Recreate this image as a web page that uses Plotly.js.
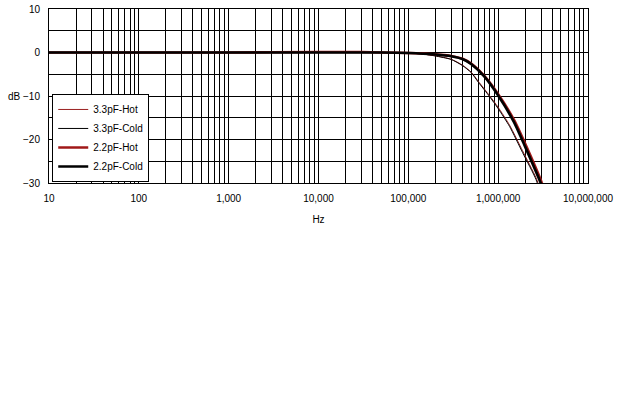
<!DOCTYPE html>
<html><head><meta charset="utf-8">
<script src="https://cdn.plot.ly/plotly-3.0.1.min.js"></script>
<style>html,body{margin:0;padding:0;background:#fff}#chart{width:619px;height:414px}</style>
</head><body><div id="chart"></div>
<script>
const freqHot33  = [10, 1000, 10000, 30000, 60000, 100000, 150000, 200000, 300000, 400000, 500000, 600000, 800000, 1000000, 1340000, 1870000, 2640000, 3000000];
const dbHot33    = [0, 0, 0.05, 0.05, 0, -0.1, -0.4, -0.75, -1.55, -2.9, -4.5, -6.6, -9.9, -12.6, -16.7, -22.6, -28.8, -32];
const freqCold33 = [10, 1000, 10000, 30000, 60000, 100000, 150000, 200000, 300000, 400000, 500000, 600000, 800000, 1000000, 1340000, 1870000, 2640000, 3000000];
const dbCold33   = [0, 0, 0, 0, 0, -0.1, -0.4, -0.8, -1.6, -3.0, -4.6, -6.8, -10.1, -12.9, -17, -23, -29.2, -33];
const freqHot22  = [10, 1000, 10000, 30000, 50000, 100000, 200000, 300000, 400000, 500000, 700000, 1000000, 1500000, 2000000, 3000000, 3300000];
const dbHot22    = [0, 0, 0.1, 0.1, 0, -0.1, -0.4, -0.8, -1.45, -2.55, -5.4, -9.6, -15.5, -21, -29.5, -32];
const freqCold22 = [10, 1000, 10000, 30000, 50000, 100000, 200000, 300000, 400000, 500000, 700000, 1000000, 1500000, 2000000, 3000000, 3300000];
const dbCold22   = [0, 0, 0, 0, 0, -0.1, -0.45, -0.85, -1.5, -2.65, -5.5, -9.9, -16, -21.7, -30.2, -33];
const names = ['3.3pF-Hot', '3.3pF-Cold', '2.2pF-Hot', '2.2pF-Cold'];
const xTicks = [10, 100, 1000, 10000, 100000, 1000000, 10000000];
const xTickText = ['10', '100', '1,000', '10,000', '100,000', '1,000,000', '10,000,000'];
const yTicks = [10, 0, -10, -20, -30];

const FONT = 'Liberation Sans, DejaVu Sans, sans-serif';
const traces = [
  {x: freqHot33, y: dbHot33, name: names[0], line: {color: '#9a2020', width: 1}},
  {x: freqCold33, y: dbCold33, name: names[1], line: {color: '#000000', width: 1}},
  {x: freqHot22, y: dbHot22, name: names[2], line: {color: '#a01818', width: 2.6}},
  {x: freqCold22, y: dbCold22, name: names[3], line: {color: '#000000', width: 2.6}}
].map(t => Object.assign({type: 'scatter', mode: 'lines'}, t, {line: Object.assign({shape: 'spline', smoothing: 0.6}, t.line)}));

const layout = {
  width: 619, height: 414,
  margin: {l: 49, r: 31, t: 9, b: 231},
  paper_bgcolor: '#fff', plot_bgcolor: '#fff',
  font: {family: FONT, size: 10, color: '#000'},
  showlegend: true,
  legend: {x: 0.006, y: 0.006, xanchor: 'left', yanchor: 'bottom', bgcolor: '#fff', bordercolor: '#000', borderwidth: 1,
           font: {family: FONT, size: 10, color: '#000'}, tracegroupgap: 0, itemwidth: 30},
  xaxis: {type: 'log', range: [1, 7], tickvals: xTicks, ticktext: xTickText, ticks: '', showgrid: true,
          gridcolor: '#000', gridwidth: 1, showline: true, linecolor: '#000', linewidth: 1, mirror: true, zeroline: false,
          minor: {dtick: 'D1', showgrid: true, gridcolor: '#000', gridwidth: 1, ticks: ''},
          ticklabelstandoff: 6,
          title: {text: 'Hz', font: {family: FONT, size: 10}, standoff: 12}, tickfont: {family: FONT, size: 10}},
  yaxis: {range: [-30, 10], tickvals: yTicks, ticks: '', showgrid: true, gridcolor: '#000', gridwidth: 1,
          showline: true, linecolor: '#000', linewidth: 1, mirror: true, zeroline: false,
          minor: {dtick: 5, showgrid: true, gridcolor: '#000', gridwidth: 1, ticks: ''},
          tickfont: {family: FONT, size: 10}, ticklabelstandoff: 6},
  annotations: [{text: 'dB', xref: 'paper', yref: 'y', x: 0, y: -10, xanchor: 'right', xshift: -26, showarrow: false,
                 font: {family: FONT, size: 10, color: '#000'}}]
};
Plotly.newPlot('chart', traces, layout, {staticPlot: true, displayModeBar: false});
</script></body></html>
